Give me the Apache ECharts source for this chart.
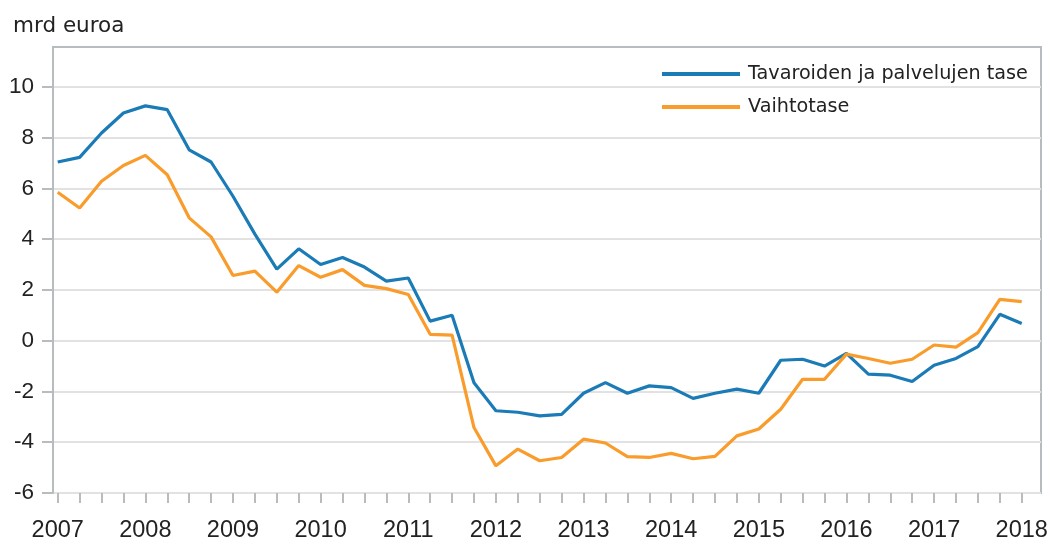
<!DOCTYPE html>
<html>
<head>
<meta charset="utf-8">
<script src="https://cdn.jsdelivr.net/npm/echarts@6/dist/echarts.min.js"></script>
<style>html,body{margin:0;padding:0;background:#fff;}#c{width:1051px;height:543px;}</style>
</head>
<body>
<div id="c"></div>
<script>
// Quarterly, 2007Q1 .. 2018Q1 (index 0..44)
const years = [2007,2008,2009,2010,2011,2012,2013,2014,2015,2016,2017,2018];
const seriesNames = ['Tavaroiden ja palvelujen tase', 'Vaihtotase'];
const tavaroidenPalvelujenTase = [
  7.04, 7.22, 8.18, 8.97, 9.25, 9.1, 7.52, 7.04,
  5.69, 4.2, 2.82, 3.62, 3.0, 3.28, 2.9, 2.35,
  2.47, 0.77, 1.0, -1.66, -2.76, -2.82, -2.96, -2.9,
  -2.07, -1.65, -2.07, -1.78, -1.85, -2.27, -2.07, -1.91,
  -2.07, -0.77, -0.73, -1.0, -0.5, -1.32, -1.36, -1.61,
  -0.97, -0.7, -0.23, 1.04, 0.68
];
const vaihtotase = [
  5.85, 5.23, 6.28, 6.9, 7.3, 6.54, 4.84, 4.09,
  2.57, 2.74, 1.91, 2.96, 2.5, 2.8, 2.18, 2.05,
  1.82, 0.25, 0.22, -3.42, -4.93, -4.27, -4.73, -4.6,
  -3.88, -4.03, -4.57, -4.6, -4.44, -4.65, -4.56, -3.75,
  -3.48, -2.7, -1.52, -1.52, -0.53, -0.7, -0.89, -0.73,
  -0.17, -0.25, 0.32, 1.63, 1.54
];
const yTicks = [-6,-4,-2,0,2,4,6,8,10];

const quarterIdx = tavaroidenPalvelujenTase.map((_, i) => i);
const yearIdx = years.map((y) => (y - years[0]) * 4);

const chart = echarts.init(document.getElementById('c'), null, {renderer: 'canvas'});
const frame = '#b7bcbf';
const txt = '#222222';
chart.setOption({
  animation: false,
  backgroundColor: '#ffffff',
  title: {
    text: 'mrd euroa',
    left: 8, top: 10,
    textStyle: {fontFamily: 'DejaVu Sans', fontSize: 21.5, fontWeight: 'normal', color: txt}
  },
  legend: {
    orient: 'vertical',
    left: 662, top: 63,
    itemGap: 11,
    icon: 'rect',
    itemWidth: 78, itemHeight: 4,
    padding: 0,
    textStyle: {fontFamily: 'DejaVu Sans', fontSize: 19.2, color: txt, lineHeight: 22, padding: [0,0,0,3]},
    data: seriesNames
  },
  grid: {
    left: 53, right: 10, top: 47, bottom: 49,
    show: true, borderColor: frame, borderWidth: 2, containLabel: false
  },
  xAxis: {
    type: 'value',
    min: -0.215, max: 44.88,
    axisLine: {show: false, onZero: false},
    splitLine: {show: false},
    axisTick: {show: true, length: 10, customValues: quarterIdx, lineStyle: {color: frame, width: 2}},
    axisLabel: {
      customValues: yearIdx,
      margin: 26,
      fontFamily: 'Liberation Sans', fontSize: 23.5, color: txt,
      formatter: (v) => String(years[0] + Math.round(v) / 4)
    }
  },
  yAxis: {
    type: 'value',
    min: -6, max: 11.57, interval: 2,
    axisLine: {show: true, onZero: false, lineStyle: {color: frame, width: 2}},
    axisTick: {show: true, length: 11, customValues: yTicks, lineStyle: {color: frame, width: 2}},
    axisLabel: {
      customValues: yTicks,
      margin: 19,
      fontFamily: 'Liberation Sans', fontSize: 22.5, color: txt
    },
    splitLine: {show: true, lineStyle: {color: '#e2e2e2', width: 2}}
  },
  series: [
    {
      name: seriesNames[0], type: 'line', showSymbol: false, symbol: 'none',
      data: tavaroidenPalvelujenTase.map((v, i) => [quarterIdx[i], v]),
      lineStyle: {color: '#1b7bb7', width: 3.2}, itemStyle: {color: '#1b7bb7'}
    },
    {
      name: seriesNames[1], type: 'line', showSymbol: false, symbol: 'none',
      data: vaihtotase.map((v, i) => [quarterIdx[i], v]),
      lineStyle: {color: '#f99c2b', width: 3.2}, itemStyle: {color: '#f99c2b'}
    }
  ]
});
</script>
</body>
</html>
